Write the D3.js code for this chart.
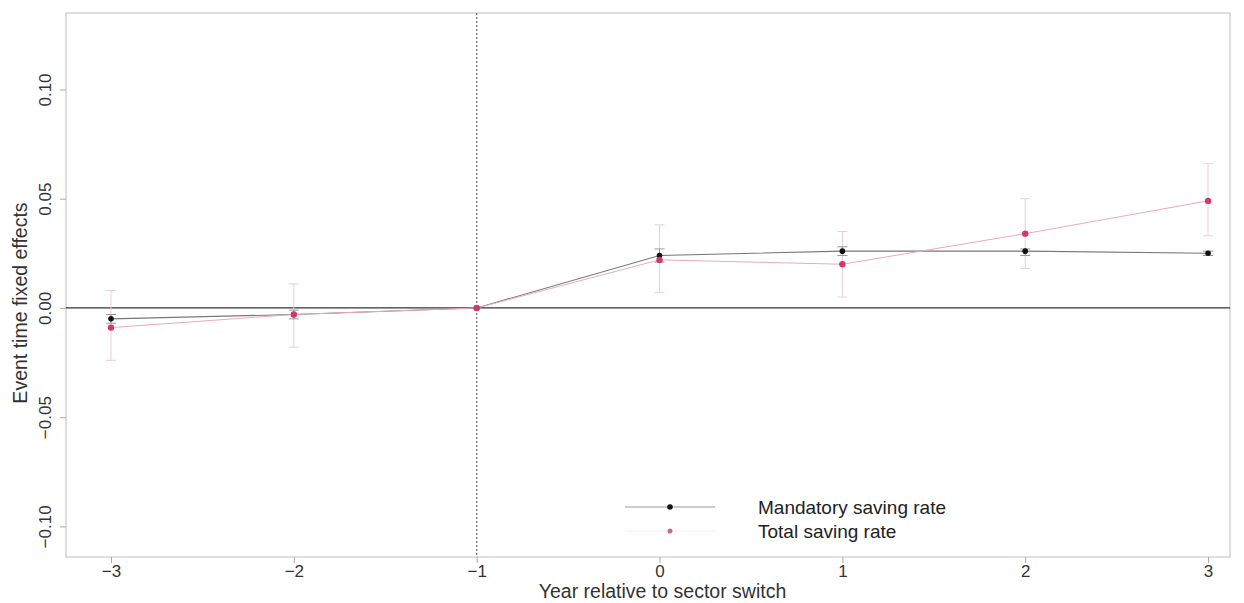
<!DOCTYPE html>
<html><head><meta charset="utf-8">
<script src="https://cdn.jsdelivr.net/npm/d3@7"></script>
<style>body{margin:0;background:#fff;}svg{display:block;font-family:"Liberation Sans",Arial,sans-serif;}</style>
</head><body>
<script>
const years = [-3,-2,-1,0,1,2,3];
const mandatory   = [-0.005,-0.003,0,0.024,0.026,0.026,0.025];
const mandatoryLo = [-0.007,-0.005,0,0.021,0.024,0.024,0.024];
const mandatoryHi = [-0.003,-0.001,0,0.027,0.028,0.027,0.026];
const total   = [-0.009,-0.003,0,0.022,0.020,0.034,0.049];
const totalLo = [-0.024,-0.018,0,0.007,0.005,0.018,0.033];
const totalHi = [0.008,0.011,0,0.038,0.035,0.050,0.066];
const xTicks = [-3,-2,-1,0,1,2,3];
const yTicks = [-0.10,-0.05,0.00,0.05,0.10];
const seriesNames = ["Mandatory saving rate","Total saving rate"];

const W=1244,H=603;
const L=66,R=1230,T=13,B=557;
const svg=d3.select("body").append("svg").attr("width",W).attr("height",H);
const x=d3.scaleLinear().domain([-3.246,3.12]).range([L,R]);
const y=d3.scaleLinear().domain([-0.114,0.135]).range([B,T]);

// frame
svg.append("rect").attr("x",L).attr("y",T).attr("width",R-L).attr("height",B-T)
  .attr("fill","none").attr("stroke","#c8c8c8").attr("stroke-width",1.2);

// axes
const xa=svg.append("g").attr("transform",`translate(0,${B})`)
  .call(d3.axisBottom(x).tickValues(xTicks).tickSize(6).tickPadding(2).tickFormat(d=>d<0?"\u2212"+Math.abs(d):d));
xa.select(".domain").remove();
xa.selectAll("line").attr("stroke","#aaa");
xa.selectAll("text").attr("font-size",17).attr("fill","#333").attr("font-family","Liberation Sans, Arial");
const ya=svg.append("g").attr("transform",`translate(${L},0)`)
  .call(d3.axisLeft(y).tickValues(yTicks).tickSize(6).tickFormat(d=>(d<0?"\u2212":"")+Math.abs(d).toFixed(2)));
ya.select(".domain").remove();
ya.selectAll("line").attr("stroke","#aaa");
ya.selectAll("text").attr("font-size",17).attr("fill","#333").attr("font-family","Liberation Sans, Arial")
  .attr("text-anchor","middle").attr("transform","translate(-15,0) rotate(-90)").attr("x",0).attr("y",0).attr("dy",0);

// axis titles
svg.append("text").attr("x",x(0)+3).attr("y",598).attr("text-anchor","middle").attr("font-size",19.5).attr("fill","#333").text("Year relative to sector switch");
svg.append("text").attr("transform",`translate(27,${(T+B)/2+18}) rotate(-90)`).attr("text-anchor","middle").attr("font-size",19.5).attr("fill","#333").text("Event time fixed effects");

// reference lines
svg.append("line").attr("x1",L).attr("x2",R).attr("y1",y(0)).attr("y2",y(0)).attr("stroke","#333").attr("stroke-width",1.2);
svg.append("line").attr("x1",x(-1)).attr("x2",x(-1)).attr("y1",T).attr("y2",B).attr("stroke","#777").attr("stroke-width",1.3).attr("stroke-dasharray","2,2");

const pink="#d2386a";
function errbars(lo,hi,col){
  const g=svg.append("g");
  years.forEach((yr,i)=>{
    if(lo[i]===hi[i]) return;
    g.append("line").attr("x1",x(yr)).attr("x2",x(yr)).attr("y1",y(lo[i])).attr("y2",y(hi[i])).attr("stroke",col).attr("stroke-width",1);
    [lo[i],hi[i]].forEach(v=>g.append("line").attr("x1",x(yr)-5).attr("x2",x(yr)+5).attr("y1",y(v)).attr("y2",y(v)).attr("stroke",col).attr("stroke-width",1));
  });
}
errbars(totalLo,totalHi,"#e6d0d8");
errbars(mandatoryLo,mandatoryHi,"#999");

const line=d3.line().x((d,i)=>x(years[i])).y(d=>y(d));
svg.append("path").datum(mandatory).attr("d",line).attr("fill","none").attr("stroke","#777").attr("stroke-width",1.1);
svg.append("path").datum(total).attr("d",line).attr("fill","none").attr("stroke","#eaa9be").attr("stroke-width",1);
svg.selectAll(".pm").data(mandatory).enter().append("circle").attr("cx",(d,i)=>x(years[i])).attr("cy",d=>y(d)).attr("r",2.8).attr("fill","#111");
svg.selectAll(".pt").data(total).enter().append("circle").attr("cx",(d,i)=>x(years[i])).attr("cy",d=>y(d)).attr("r",3.2).attr("fill",pink);

// legend
const lg=svg.append("g");
lg.append("line").attr("x1",625).attr("x2",715).attr("y1",507).attr("y2",507).attr("stroke","#999").attr("stroke-width",1.2);
lg.append("circle").attr("cx",670).attr("cy",507).attr("r",2.8).attr("fill","#111");
lg.append("line").attr("x1",625).attr("x2",715).attr("y1",531).attr("y2",531).attr("stroke","#fbe9ef").attr("stroke-width",1.2);
lg.append("circle").attr("cx",670).attr("cy",531).attr("r",2.5).attr("fill","#c86a8a");
lg.selectAll("text").data(seriesNames).enter().append("text").attr("x",758).attr("y",(d,i)=>507+i*24).attr("dy","0.35em")
  .attr("font-size",19).attr("fill","#222").text(d=>d);
</script>
</body></html>
